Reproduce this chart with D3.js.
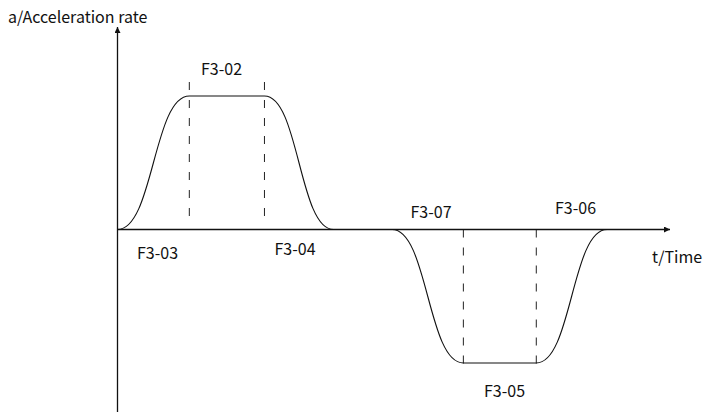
<!DOCTYPE html>
<html>
<head>
<meta charset="utf-8">
<script src="https://cdn.jsdelivr.net/npm/d3@7"></script>
<style>
  html, body { margin: 0; padding: 0; background: #fff; }
  svg { display: block; }
  text { font-family: "Noto Sans CJK SC", "Noto Sans", sans-serif; font-size: 16px; fill: #111; }
</style>
</head>
<body>
<svg id="chart" width="713" height="414"></svg>
<script>
// S-curve acceleration profile: breakpoints in time and normalised acceleration
const times = [0, 13, 26.6, 39.1, 49.7, 62.6, 75.8, 88.6];
const accel = [0, 1, 1, 0, 0, -1, -1, 0];

// Boundaries of the constant-acceleration phases (dashed guides)
const guideTimes = [13, 26.6, 62.6, 75.8];
const guideLevels = [1, 1, -1, -1];

// Parameter labels
const paramNames = ["F3-03", "F3-02", "F3-04", "F3-07", "F3-05", "F3-06"];
const axisTitles = ["a/Acceleration rate", "t/Time"];

const svg = d3.select("#chart");

const x = d3.scaleLinear().domain([0, 100]).range([117.5, 670]);
const y = d3.scaleLinear().domain([-1, 1]).range([363, 96]);

// Arrow marker for the axes
const defs = svg.append("defs");
defs.append("marker")
  .attr("id", "arrow")
  .attr("viewBox", "0 0 10 10")
  .attr("refX", 10).attr("refY", 5)
  .attr("markerWidth", 8).attr("markerHeight", 6)
  .attr("markerUnits", "userSpaceOnUse")
  .attr("orient", "auto")
  .append("path")
  .attr("d", "M0,0 L10,5 L0,10 Z")
  .attr("fill", "#111");

// Dashed guides
const guides = guideTimes.map((t, i) => ({ t, level: guideLevels[i] }));
svg.append("g")
  .selectAll("line")
  .data(guides)
  .join("line")
  .attr("x1", d => x(d.t)).attr("x2", d => x(d.t))
  .attr("y1", d => d.level > 0 ? y(d.level) - 14 : y(0))
  .attr("y2", d => d.level > 0 ? y(0) - 8 : y(d.level) + 2)
  .attr("stroke", "#222")
  .attr("stroke-width", 1)
  .attr("stroke-dasharray", "8,10");

// Axes
svg.append("line")
  .attr("x1", x(0)).attr("x2", x(0))
  .attr("y1", 412).attr("y2", 27)
  .attr("stroke", "#111").attr("stroke-width", 1.3)
  .attr("marker-end", "url(#arrow)");
svg.append("line")
  .attr("x1", x(0)).attr("x2", x(100))
  .attr("y1", y(0)).attr("y2", y(0))
  .attr("stroke", "#111").attr("stroke-width", 1.3)
  .attr("marker-end", "url(#arrow)");

// Acceleration curve
const pts = times.map((t, i) => [t, accel[i]]);
const line = d3.line()
  .x(d => x(d[0]))
  .y(d => y(d[1]))
  .curve(d3.curveBumpX);
svg.append("path")
  .datum(pts)
  .attr("d", line)
  .attr("fill", "none")
  .attr("stroke", "#111")
  .attr("stroke-width", 1.1);

// Labels
const labelLayout = [
  { x: 157.5, y: 259 },
  { x: 221.5, y: 75 },
  { x: 295,   y: 255 },
  { x: 431,   y: 218 },
  { x: 504.5, y: 397 },
  { x: 575.5, y: 214 }
];
svg.append("g")
  .selectAll("text")
  .data(paramNames)
  .join("text")
  .attr("x", (d, i) => labelLayout[i].x)
  .attr("y", (d, i) => labelLayout[i].y)
  .attr("text-anchor", "middle")
  .text(d => d);

svg.append("text").attr("x", 8).attr("y", 23).text(axisTitles[0]);
svg.append("text").attr("x", 652).attr("y", 263).text(axisTitles[1]);
</script>
</body>
</html>
